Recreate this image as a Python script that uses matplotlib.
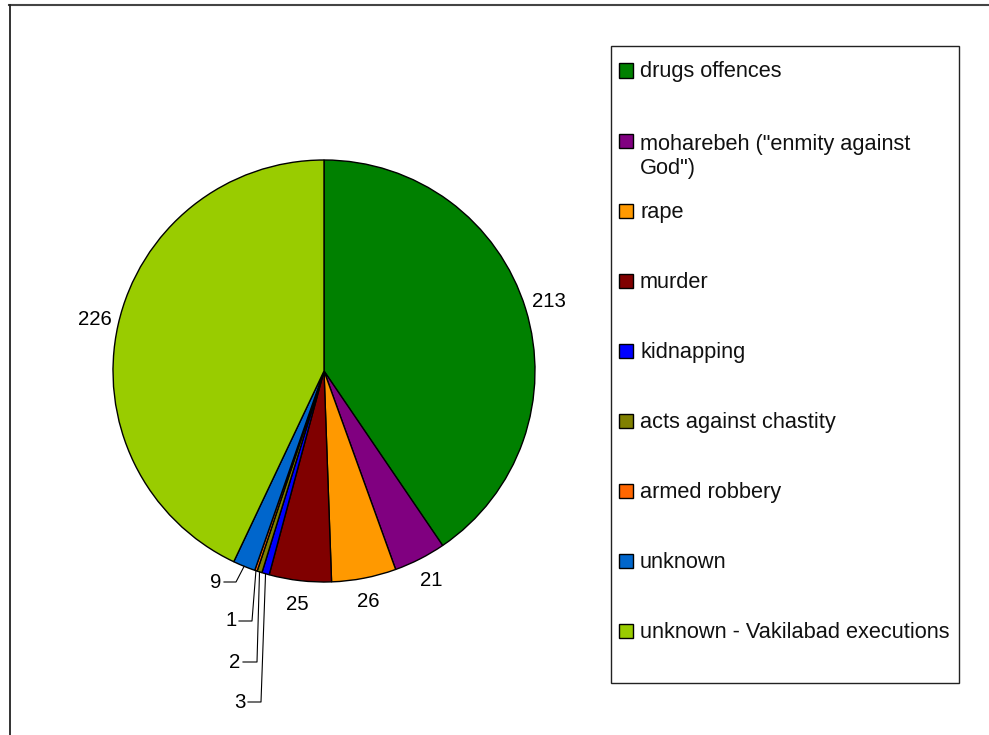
import numpy as np
import matplotlib
matplotlib.use("Agg")
import matplotlib.pyplot as plt
from matplotlib.patches import Rectangle
from matplotlib.lines import Line2D

categories = ["drugs offences", "moharebeh (\"enmity against\nGod\")", "rape", "murder",
              "kidnapping", "acts against chastity", "armed robbery", "unknown",
              "unknown - Vakilabad executions"]
values = [213, 21, 26, 25, 3, 2, 1, 9, 226]
colors = ["#008000", "#800080", "#FF9900", "#800000", "#0000FF",
          "#808000", "#FF6600", "#0066CC", "#99CC00"]

W, H = 989, 735
cx, cy, R = 324, 371, 211   # pie centre / radius in pixels

fig = plt.figure(figsize=(W / 100, H / 100), dpi=100)
ax = fig.add_axes([0, 0, 1, 1])

def px(x, y):
    # pixel (top-left origin) -> figure fraction
    return x / W, 1 - y / H

def pdata(x, y):
    # pixel -> pie data coords
    return (x - cx) / R, (cy - y) / R

wedges, _ = ax.pie(values, colors=colors, startangle=90, counterclock=False,
                   radius=1, center=(0, 0),
                   wedgeprops=dict(edgecolor="black", linewidth=1.0))
ax.set_xlim((0 - cx) / R, (W - cx) / R)
ax.set_ylim((cy - H) / R, cy / R)
ax.set_aspect("auto")
ax.axis("off")

numfont = dict(family="Liberation Sans", fontsize=14.7, color="black")

# small slices get leader lines: label pixel pos and elbow x
small_pos = {7: (216, 582, 236), 6: (231, 621, 252), 5: (235, 662, 257), 4: (240, 702, 261)}

for i, w in enumerate(wedges):
    mid = np.deg2rad((w.theta1 + w.theta2) / 2)
    if i in small_pos:
        tx, ty, ex = small_pos[i]
        x0, y0 = pdata(tx, ty)
        ax.text(x0, y0, str(values[i]), ha="center", va="center", **numfont)
        xs = [pdata(tx + 8, ty)[0], pdata(ex, ty)[0], np.cos(mid)]
        ys = [y0, y0, np.sin(mid)]
        ax.plot(xs, ys, color="black", lw=0.8)
    else:
        ax.text(1.115 * np.cos(mid), 1.115 * np.sin(mid), str(values[i]),
                ha="center", va="center", **numfont)

# legend box
x0, y1 = px(611, 683)
x1, y0 = px(959, 46)
fig.add_artist(Rectangle((x0, y1), x1 - x0, y0 - y1, transform=fig.transFigure,
                         fill=False, edgecolor="#222222", lw=1.0))
fs = 15.7
line_px = 1.2 * fs * 100 / 72
for i, (lab, c) in enumerate(zip(categories, colors)):
    yc = 70.5 + 70.1 * i
    sx, sy = px(619, yc + 7)
    fig.add_artist(Rectangle((sx, sy), 14 / W, 14 / H, transform=fig.transFigure,
                             facecolor=c, edgecolor="black", lw=1.0))
    extra = lab.count("\n") * line_px
    tx, ty = px(640, yc + 7 + extra)
    fig.text(tx, ty, lab, ha="left", va="baseline", family="Liberation Sans",
             fontsize=fs, color="#111111", linespacing=1.2)

# outer frame (top and left only)
fig.add_artist(Line2D([px(9, 5)[0], 1], [px(9, 5)[1]] * 2, transform=fig.transFigure,
                      color="#444444", lw=1.5))
fig.add_artist(Line2D([px(9.5, 5)[0]] * 2, [px(9, 5)[1], 0], transform=fig.transFigure,
                      color="#222222", lw=1.3))

fig.savefig("out.png", dpi=100)
